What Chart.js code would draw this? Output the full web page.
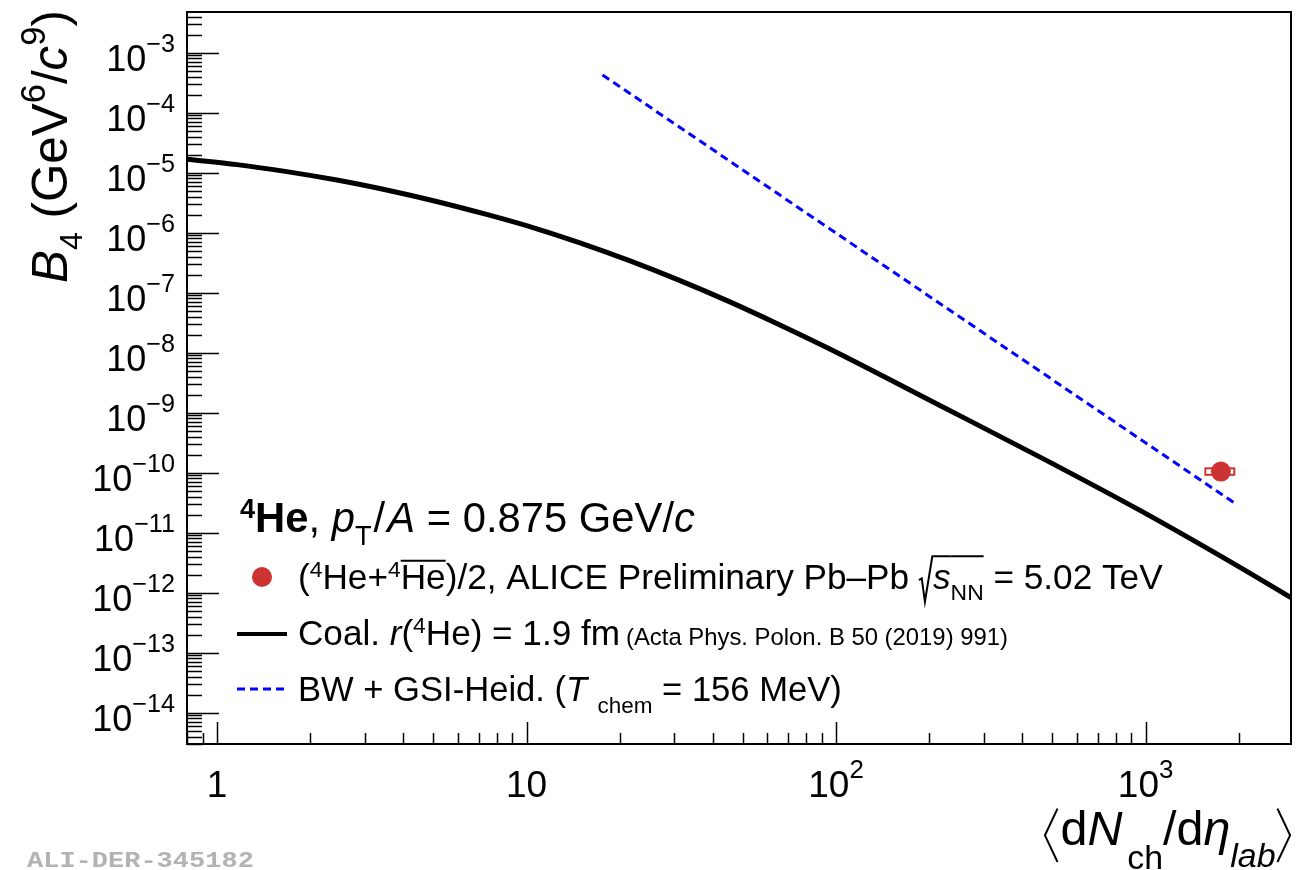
<!DOCTYPE html>
<html>
<head>
<meta charset="utf-8">
<script src="https://cdn.jsdelivr.net/npm/chart.js@4.4.1/dist/chart.umd.min.js"></script>
<style>
  html, body { margin: 0; padding: 0; background: #fff; }
</style>
</head>
<body>
<canvas id="myChart" width="1301" height="870"></canvas>
<script>
// coalescence curve, r(4He) = 1.9 fm
let coalX = [0.8, 1.16, 1.68, 2.44, 3.53, 5.12, 7.43, 10.8, 14.8, 21.5, 31.2, 45.2, 65.6, 95.1, 215, 453, 953, 2000, 2970];
let coalY = [1.67e-5, 1.36e-5, 1.04e-5, 7.52e-6, 5.13e-6, 3.31e-6, 2.01e-6, 1.16e-6, 6.82e-7, 3.41e-7, 1.60e-7, 7.08e-8, 2.92e-8, 1.16e-8, 1.34e-9, 1.85e-10, 2.39e-11, 2.71e-12, 8.07e-13];

// blast wave + GSI-Heidelberg
let bwX = [17.6, 1930];
let bwY = [4.25e-4, 3.16e-11];

// ALICE preliminary Pb-Pb point with systematic box
let aliceX = [1751];
let aliceY = [1.04e-10];
let aliceSysX = [[1560, 1935]];
let aliceSysY = [[9.2e-11, 1.18e-10]];

// axis ranges and tick labels
let xMin = 0.8, xMax = 2950;
let yMin = 3.0e-15, yMax = 4.76e-3;
let xTickValues = [1, 10, 100, 1000];
let xTickLabels = [["1", ""], ["10", ""], ["10", "2"], ["10", "3"]];
let yTickExps = [-3, -4, -5, -6, -7, -8, -9, -10, -11, -12, -13, -14];

const FONT = '"Liberation Sans", Arial, Helvetica, sans-serif';

// little rich text drawer: segments [text, {i, b, sup, sub, size, over, rad, lb, rb, dx}]
function layoutRich(ctx, segs, size) {
    return segs.map(([t, o]) => {
        o = o || {};
        let sz = o.size ? o.size * size : size;
        let dy = 0;
        if (o.sup) { sz = size * (o.size || 0.65); dy = -size * (o.sup === true ? 0.4 : o.sup); }
        if (o.sub) { sz = size * (o.size || 0.65); dy = size * (o.sub === true ? 0.3 : o.sub); }
        let font = (o.i ? "italic " : "") + (o.b ? "bold " : "") + sz + "px " + FONT;
        ctx.font = font;
        let w;
        if (o.rad) w = size * 0.40;
        else if (o.lb || o.rb) w = size * 0.36;
        else w = ctx.measureText(t).width;
        w += (o.dx || 0) * size;
        return { t, o, font, dy, w };
    });
}

function drawRich(ctx, x, y, segs, size, align, fit) {
    let items = layoutRich(ctx, segs, size);
    let total = items.reduce((s, it) => s + it.w, 0);
    if (fit) {
        size = size * fit / total;
        items = layoutRich(ctx, segs, size);
        total = items.reduce((s, it) => s + it.w, 0);
    }
    let cx = align === "right" ? x - total : align === "center" ? x - total / 2 : x;
    ctx.textAlign = "left";
    ctx.textBaseline = "alphabetic";
    for (const it of items) {
        let o = it.o;
        if (o.rad) {
            ctx.beginPath();
            ctx.lineWidth = 2;
            ctx.moveTo(cx, y - size * 0.25);
            ctx.lineTo(cx + size * 0.08, y - size * 0.30);
            ctx.lineTo(cx + size * 0.17, y + size * 0.36);
            ctx.lineTo(cx + size * 0.38, y - size * 0.93);
            ctx.lineTo(cx + it.w, y - size * 0.93);
            ctx.stroke();
        } else if (o.lb) {
            ctx.beginPath();
            ctx.lineWidth = 2;
            ctx.moveTo(cx + size * 0.30, y - size * 0.75);
            ctx.lineTo(cx + size * 0.04, y - size * 0.20);
            ctx.lineTo(cx + size * 0.30, y + size * 0.35);
            ctx.stroke();
        } else if (o.rb) {
            ctx.beginPath();
            ctx.lineWidth = 2;
            ctx.moveTo(cx + size * 0.04, y - size * 0.75);
            ctx.lineTo(cx + size * 0.30, y - size * 0.20);
            ctx.lineTo(cx + size * 0.04, y + size * 0.35);
            ctx.stroke();
        } else {
            ctx.font = it.font;
            ctx.fillText(it.t, cx, y + it.dy);
        }
        if (o.over) {
            ctx.beginPath();
            ctx.lineWidth = 2;
            ctx.moveTo(cx, y - size * o.over);
            ctx.lineTo(cx + it.w, y - size * o.over);
            ctx.stroke();
        }
        cx += it.w;
    }
    return total;
}

const rootStyle = {
    id: "rootStyle",
    beforeDatasetsDraw(chart) {
        const ctx = chart.ctx, xs = chart.scales.x, ys = chart.scales.y;
        ctx.save();
        ctx.strokeStyle = "#cc3333";
        ctx.lineWidth = 2;
        for (let i = 0; i < aliceX.length; i++) {
            let x1 = xs.getPixelForValue(aliceSysX[i][0]);
            let x2 = xs.getPixelForValue(aliceSysX[i][1]);
            let y1 = ys.getPixelForValue(aliceSysY[i][1]);
            let y2 = ys.getPixelForValue(aliceSysY[i][0]);
            ctx.strokeRect(x1, y1, x2 - x1, y2 - y1);
        }
        ctx.restore();
    },
    afterDraw(chart) {
        const ctx = chart.ctx, xs = chart.scales.x, ys = chart.scales.y, a = chart.chartArea;
        ctx.save();
        ctx.fillStyle = "#000";
        ctx.strokeStyle = "#000";

        // frame
        ctx.lineWidth = 2;
        ctx.strokeRect(a.left, a.top, a.right - a.left, a.bottom - a.top);

        // y ticks, inside on the left
        ctx.lineWidth = 1.5;
        for (let e = Math.floor(Math.log10(yMin)); e <= Math.ceil(Math.log10(yMax)); e++) {
            for (let k = 1; k <= 9; k++) {
                let v = k * Math.pow(10, e);
                if (v < yMin || v > yMax) continue;
                let py = Math.round(ys.getPixelForValue(v)) + 0.5;
                let len = k === 1 ? 32 : 15;
                ctx.beginPath();
                ctx.moveTo(a.left, py);
                ctx.lineTo(a.left + len, py);
                ctx.stroke();
            }
        }
        // x ticks, inside at the bottom
        for (let e = Math.floor(Math.log10(xMin)); e <= Math.ceil(Math.log10(xMax)); e++) {
            for (let k = 1; k <= 9; k++) {
                let v = k * Math.pow(10, e);
                if (v < xMin || v > xMax) continue;
                let px = Math.round(xs.getPixelForValue(v)) + 0.5;
                let len = k === 1 ? 22 : 11;
                ctx.beginPath();
                ctx.moveTo(px, a.bottom);
                ctx.lineTo(px, a.bottom - len);
                ctx.stroke();
            }
        }

        // tick labels
        for (const e of yTickExps) {
            let py = ys.getPixelForValue(Math.pow(10, e));
            drawRich(ctx, 175, py + 18, [["10"], ["\u2212" + Math.abs(e), { sup: 0.52, size: 0.7 }]], 36, "right");
        }
        xTickValues.forEach((v, i) => {
            let px = xs.getPixelForValue(v);
            let lab = xTickLabels[i];
            let segs = [[lab[0]]];
            if (lab[1]) segs.push([lab[1], { sup: 0.52, size: 0.7 }]);
            drawRich(ctx, px, 797, segs, 37, "center");
        });

        // y title
        ctx.save();
        ctx.translate(67, 283);
        ctx.rotate(-Math.PI / 2);
        drawRich(ctx, 0, 0, [["B", { i: 1 }], ["4", { sub: 0.3 }], [" (GeV"], ["6", { sup: 0.45, size: 0.7 }], ["/"], ["c", { i: 1 }], ["9", { sup: 0.45, size: 0.7 }], [")"]], 48, "left", 273);
        ctx.restore();

        // x title
        drawRich(ctx, 1043, 845, [
            ["", { lb: 1 }], ["d"], ["N", { i: 1, dx: 0.1 }], ["ch", { sub: 0.5, size: 0.7 }],
            ["/d"], ["\u03b7", { i: 1 }], ["lab", { i: 1, sub: 0.45, size: 0.7 }], ["", { rb: 1 }]
        ], 43, "left", 250);

        // legend
        drawRich(ctx, 240, 532, [
            ["4", { b: 1, sup: 0.33 }], ["He", { b: 1 }], [", "], ["p", { i: 1 }], ["T", { sub: 0.3, dx: 0.05 }],
            ["/", { dx: 0.05 }], ["A", { i: 1 }], [" = 0.875 GeV/"], ["c", { i: 1 }]
        ], 40, "left", 455);

        ctx.fillStyle = "#cc3333";
        ctx.beginPath();
        ctx.arc(262, 577, 10, 0, Math.PI * 2);
        ctx.fill();
        ctx.fillStyle = "#000";
        drawRich(ctx, 298, 589, [
            ["("], ["4", { sup: 0.33 }], ["He+"], ["4", { sup: 0.33 }], ["He", { over: 0.8 }],
            [")/2, ALICE Preliminary Pb\u2013Pb "], ["", { rad: 1 }], ["s", { i: 1, over: 0.93 }],
            ["NN", { sub: 0.3, over: 0.93 }], [" = 5.02 TeV"]
        ], 35, "left", 865);

        ctx.lineWidth = 4;
        ctx.beginPath();
        ctx.moveTo(237, 634);
        ctx.lineTo(287, 634);
        ctx.stroke();
        drawRich(ctx, 298, 645, [
            ["Coal. "], ["r", { i: 1 }], ["("], ["4", { sup: 0.33 }], ["He) = 1.9 fm"]
        ], 35, "left", 322);
        drawRich(ctx, 626, 645, [["(Acta Phys. Polon. B 50 (2019) 991)"]], 24, "left", 382);

        ctx.strokeStyle = "#0000ff";
        ctx.lineWidth = 3;
        ctx.setLineDash([8, 5]);
        ctx.beginPath();
        ctx.moveTo(237, 689);
        ctx.lineTo(287, 689);
        ctx.stroke();
        ctx.setLineDash([]);
        ctx.strokeStyle = "#000";
        drawRich(ctx, 298, 701, [
            ["BW + GSI-Heid. ("], ["T", { i: 1, dx: 0.3 }], ["chem", { sub: 0.36 }], [" = 156 MeV)"]
        ], 35, "left", 544);

        // figure id
        ctx.save();
        ctx.translate(27, 867);
        ctx.scale(1, 0.82);
        ctx.fillStyle = "#b3b3b3";
        ctx.font = 'bold 27px "Liberation Mono", "DejaVu Sans Mono", monospace';
        ctx.fillText("ALI-DER-345182", 0, 0);
        ctx.restore();

        ctx.restore();
    }
};

const conf = {
    type: "scatter",
    data: {
        datasets: [
            {
                label: "Coal. r(4He) = 1.9 fm",
                data: coalX.map((x, i) => ({ x, y: coalY[i] })),
                showLine: true,
                borderColor: "#000",
                borderWidth: 5,
                pointRadius: 0,
                cubicInterpolationMode: "monotone",
                order: 3
            },
            {
                label: "BW + GSI-Heid.",
                data: bwX.map((x, i) => ({ x, y: bwY[i] })),
                showLine: true,
                borderColor: "#0000ff",
                borderWidth: 3,
                borderDash: [8, 5],
                pointRadius: 0,
                order: 2
            },
            {
                label: "ALICE Preliminary",
                data: aliceX.map((x, i) => ({ x, y: aliceY[i] })),
                pointRadius: 10,
                backgroundColor: "#cc3333",
                borderColor: "#cc3333",
                borderWidth: 0,
                order: 1
            }
        ]
    },
    options: {
        responsive: false,
        animation: false,
        layout: { padding: { left: 187, top: 12, right: 9, bottom: 126 } },
        plugins: { legend: { display: false }, tooltip: { enabled: false } },
        scales: {
            x: { type: "logarithmic", min: xMin, max: xMax, display: false },
            y: { type: "logarithmic", min: yMin, max: yMax, display: false }
        }
    },
    plugins: [rootStyle]
};

let grafico = new Chart(document.querySelector("#myChart"), conf);
</script>
</body>
</html>
